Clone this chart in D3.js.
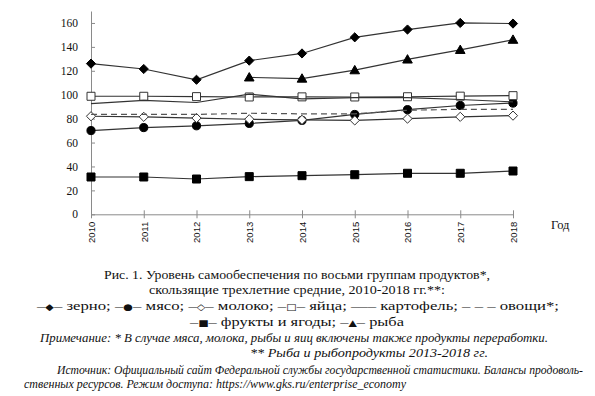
<!doctype html>
<html lang="ru">
<head>
<meta charset="utf-8">
<title>Уровень самообеспечения</title>
<script src="https://cdn.jsdelivr.net/npm/d3@7"></script>
<style>
  body { margin: 0; background: #fff; }
  svg text { font-family: "Liberation Serif", "Times New Roman", serif; fill: #111; }
  svg text.yr { font-family: "Liberation Sans", Arial, sans-serif; }
</style>
</head>
<body>
<script>
  // years on the x axis
  var years = [2010, 2011, 2012, 2013, 2014, 2015, 2016, 2017, 2018];
  var yTicks = [0, 20, 40, 60, 80, 100, 120, 140, 160];

  // series values
  var zerno      = [126, 121.5, 112.5, 128.5, 134.5, 148, 154.5, 160, 159.5];
  var myaso      = [70, 72.5, 74, 76, 78.5, 83.5, 87.5, 91, 93];
  var moloko     = [82, 81.5, 80.5, 79.5, 79, 78.5, 80, 81.5, 82.5];
  var yaitsa     = [98.7, 98.7, 98.4, 98.1, 98.2, 98.1, 98.3, 98.8, 99.2];
  var kartofel   = [92.5, 95.3, 93.5, 100.5, 96.5, 97.5, 97.6, 96, 94];
  var ovoshchi   = [83.5, 83.5, 83.5, 84.5, 84, 84, 87, 87.8, 87.8];
  var frukty     = [31.2, 31.2, 29.5, 31.5, 32.3, 33.1, 34.3, 34.3, 36.2];
  var ryba       = [null, null, null, 114.5, 113.5, 120.5, 129.5, 137.5, 146];

  var width = 595, height = 396;

  var svg = d3.select("body").append("svg")
      .attr("width", width)
      .attr("height", height);

  var x = d3.scalePoint().domain(years).range([91, 513]);
  var y = d3.scaleLinear().domain([0, 170]).range([214.3, 11]);

  var axisColor = "#8a8a8a";

  // y axis
  var yAxis = svg.append("g")
      .attr("transform", "translate(91,0)")
      .call(d3.axisLeft(y).tickValues(yTicks).tickSizeInner(4).tickSizeOuter(0).tickPadding(9));
  yAxis.select(".domain").attr("stroke", axisColor);
  yAxis.selectAll(".tick line").attr("stroke", axisColor).attr("x2", 4);
  yAxis.selectAll(".tick text")
      .attr("font-size", 11.5)
      .attr("fill", "#111");

  // x axis
  var xAxis = svg.append("g")
      .attr("transform", "translate(0," + y(0) + ")")
      .call(d3.axisBottom(x).tickSizeInner(4).tickSizeOuter(0));
  xAxis.select(".domain").attr("stroke", axisColor);
  xAxis.selectAll(".tick line").attr("stroke", axisColor).attr("y1", -4);
  xAxis.selectAll(".tick text")
      .attr("class", "yr")
      .attr("font-size", 9.5)
      .attr("fill", "#111")
      .attr("text-anchor", "end")
      .attr("x", 0)
      .attr("y", 0)
      .attr("dy", "0.35em")
      .attr("transform", "translate(0,7.5) rotate(-90)");

  svg.append("text")
      .attr("x", 551)
      .attr("y", 229)
      .attr("font-size", 12.5)
      .text("Год");

  // marker shapes
  var shapes = {
    diamond: "M0,-4.6L4.6,0L0,4.6L-4.6,0Z",
    circle: d3.symbol(d3.symbolCircle, 52)(),
    square: "M-4,-4H4V4H-4Z",
    triangle: "M0,-4.8L4.8,3.6H-4.8Z"
  };

  var series = [
    { name: "зерно", values: zerno, shape: "diamond", fill: "#000" },
    { name: "мясо", values: myaso, shape: "circle", fill: "#000" },
    { name: "молоко", values: moloko, shape: "diamond", fill: "#fff" },
    { name: "яйца", values: yaitsa, shape: "square", fill: "#fff" },
    { name: "картофель", values: kartofel, shape: null },
    { name: "овощи", values: ovoshchi, shape: null, dash: "6,4" },
    { name: "фрукты и ягоды", values: frukty, shape: "square", fill: "#000" },
    { name: "рыба", values: ryba, shape: "triangle", fill: "#000" }
  ];

  var line = d3.line()
      .defined(function(d) { return d.v != null; })
      .x(function(d) { return x(d.year); })
      .y(function(d) { return y(d.v); });

  series.forEach(function(s) {
    var pts = years.map(function(yr, i) { return { year: yr, v: s.values[i] }; });
    var g = svg.append("g");
    g.append("path")
        .datum(pts)
        .attr("d", line)
        .attr("fill", "none")
        .attr("stroke", s.dash ? "#555" : "#333")
        .attr("stroke-width", 1.2)
        .attr("stroke-dasharray", s.dash || null);
    if (s.shape) {
      g.selectAll("path.m")
          .data(pts.filter(function(d) { return d.v != null; }))
          .enter()
          .append("path")
          .attr("class", "m")
          .attr("d", shapes[s.shape])
          .attr("transform", function(d) { return "translate(" + x(d.year) + "," + y(d.v) + ")"; })
          .attr("fill", s.fill)
          .attr("stroke", s.fill === "#fff" ? "#333" : "#000")
          .attr("stroke-width", 1);
    }
  });

  // caption; parts in [] are small legend symbols
  var caption = [
    { t: "Рис. 1. Уровень самообеспечения по восьми группам продуктов*,", x: 297, y: 279, w: 386 },
    { t: "скользящие трехлетние средние, 2010-2018 гг.**:", x: 297, y: 294, w: 296 },
    { t: "–[◆]– зерно; –[●]– мясо; –[◇]– молоко; –[□]– яйца; ––– картофель; – – – овощи*;", x: 298, y: 310, w: 522 },
    { t: "–[■]– фрукты и ягоды; –[▲]– рыба", x: 297, y: 326, w: 214 }
  ];
  caption.forEach(function(c) {
    var txt = svg.append("text")
        .attr("x", c.x)
        .attr("y", c.y)
        .attr("text-anchor", "middle")
        .attr("font-size", 13.5)
        .attr("textLength", c.w)
        .attr("lengthAdjust", "spacingAndGlyphs");
    c.t.split(/(\[[^\]]+\])/).forEach(function(part) {
      if (!part) return;
      if (part.charAt(0) === "[") {
        txt.append("tspan")
            .attr("font-size", 9)
            .attr("font-family", "DejaVu Sans, sans-serif")
            .text(part.slice(1, -1));
      } else {
        txt.append("tspan").text(part);
      }
    });
  });

  var notes = [
    { t: "Примечание: * В случае мяса, молока, рыбы и яиц включены также продукты переработки.", x: 40, y: 342, w: 508 },
    { t: "** Рыба и рыбопродукты 2013-2018 гг.", x: 250, y: 357, w: 238 },
    { t: "Источник: Официальный сайт Федеральной службы государственной статистики. Балансы продоволь-", x: 57, y: 374, w: 526 },
    { t: "ственных ресурсов. Режим доступа: https://www.gks.ru/enterprise_economy", x: 24, y: 388, w: 382 }
  ];
  notes.forEach(function(n) {
    svg.append("text")
        .attr("x", n.x)
        .attr("y", n.y)
        .attr("font-size", 11.5)
        .attr("font-style", "italic")
        .attr("textLength", n.w)
        .attr("lengthAdjust", "spacingAndGlyphs")
        .text(n.t);
  });
</script>
</body>
</html>
